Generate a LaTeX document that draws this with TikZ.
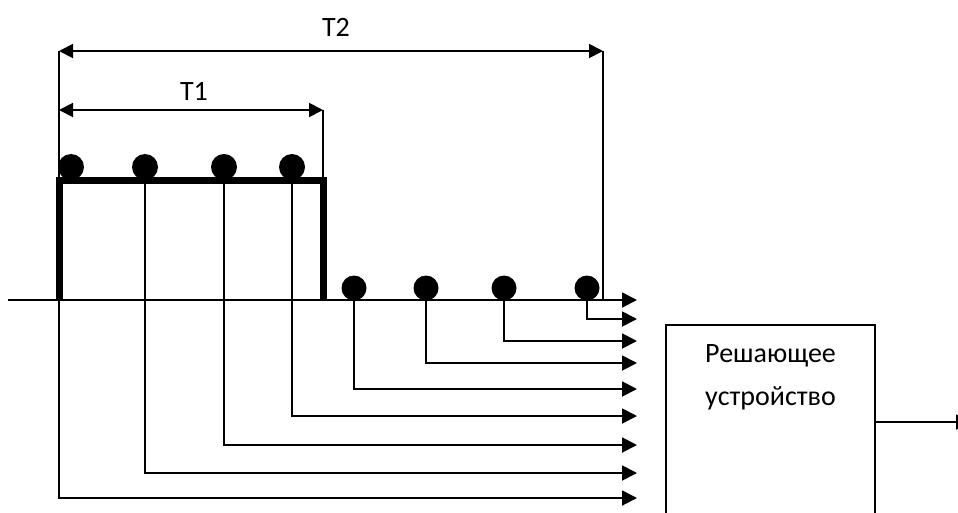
\documentclass[tikz,border=0pt]{standalone}
\usepackage{fontspec}
\setmainfont{Carlito}
\usetikzlibrary{positioning, arrows.meta}

\begin{document}
\begin{tikzpicture}[x=1pt, y=-1pt, font=\fontsize{28}{43}\selectfont]
    \tikzset{
        wire/.style={line width=1.9pt},
        arrow/.style={wire, -{Triangle[length=15pt, width=15pt]}},
        dim/.style={wire, {Triangle[length=14pt, width=14pt]}-{Triangle[length=14pt, width=14pt]}},
        pulse/.style={line width=7pt},
        sample/.style={circle, fill=black, inner sep=0pt, minimum size=26pt},
        device/.style={rectangle, draw, line width=1.9pt,
                      minimum width=209pt, minimum height=194pt}
    }
    \useasboundingbox (0,0) rectangle (958,512);
    % time marks
    \coordinate (in) at (8,300);
    \coordinate (t2l) at (59,51);
    \coordinate (t2r) at (603,51);
    \coordinate (t1l) at (59,110);
    \coordinate (t1r) at (323,110);
    \foreach \n/\y in {0/300,1/319,2/341,3/363,4/389,5/416,6/445,7/473,8/498}
        \coordinate (e\n) at (637,\y);
    \draw[dim] (t2l) -- (t2r);
    \draw[dim] (t1l) -- (t1r);
    \node (lblT2) at (336,27) {T2};
    \node (lblT1) at (194,91) {T1};
    \draw[wire] (t2r) -- ++(0,249);
    \draw[wire] (t1r) -- ++(0,70);
    % pulse and samples
    \draw[pulse] (59,300) |- (323,180) -- (323,300);
    \foreach \n/\x in {1/71,2/145,3/224,4/292}
        \node[sample] (p\n) at (\x,167) {};
    \foreach \n/\x in {1/354,2/426,3/504,4/587}
        \node[sample, minimum size=25pt] (q\n) at (\x,288) {};
    % taps
    \draw[arrow] (in) -- (e0);
    \foreach \s/\e in {q4/1,q3/2,q2/3,q1/4,p4/5,p3/6,p2/7}
        \draw[arrow] (\s.center) |- (e\e);
    \draw[arrow] (t2l) |- (e8);
    % decision device
    \node[device] (dev) at (770.5,422) {};
    \node[align=center, inner sep=0pt, below=20pt of dev.north] (devtext) {Решающее\\устройство};
    \coordinate (out) at (971,422);
    \draw[arrow] (dev.east) -- (out);
\end{tikzpicture}
\end{document}
